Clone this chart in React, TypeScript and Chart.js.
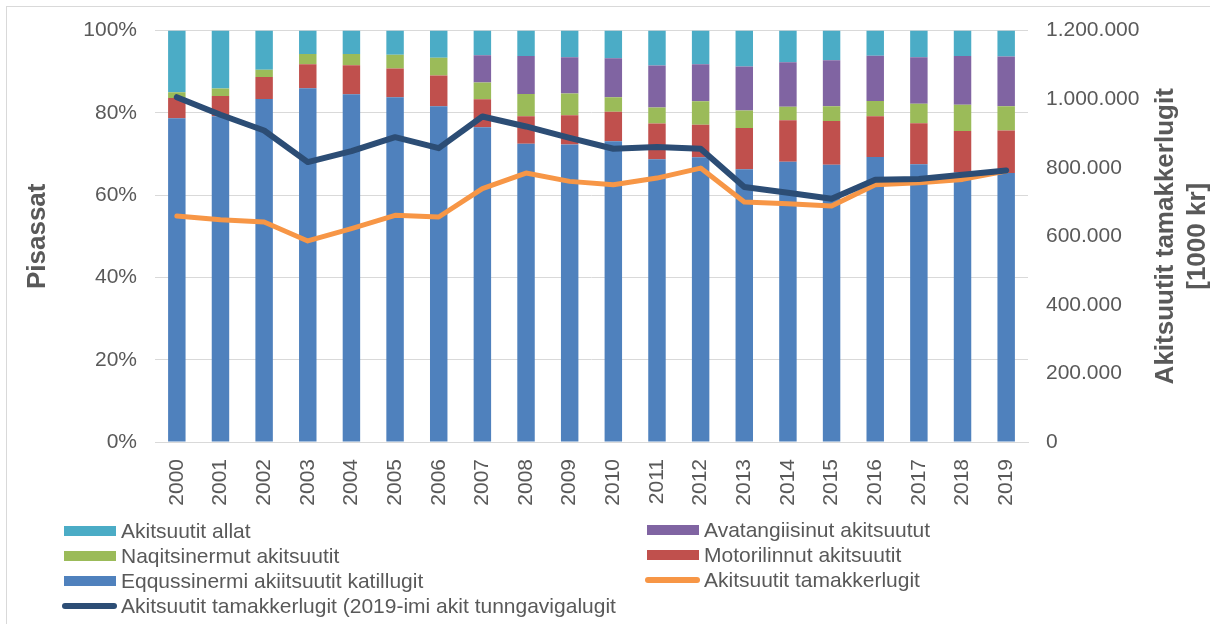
import React, { useEffect, useRef } from "react";
import { Chart, registerables } from "chart.js";

Chart.register(...registerables);

const YEARS = ["2000","2001","2002","2003","2004","2005","2006","2007","2008","2009","2010","2011","2012","2013","2014","2015","2016","2017","2018","2019"];

// Share of taxes (%)
const EQQUSSINERMI = [78.7, 79.2, 83.4, 86.0, 84.5, 83.8, 81.6, 76.5, 72.5, 72.3, 73.1, 68.7, 69.2, 66.3, 68.1, 67.4, 69.3, 67.5, 65.5, 65.4];
const MOTORILINNUT = [4.9, 4.9, 5.3, 5.8, 7.1, 7.0, 7.5, 6.8, 6.7, 7.1, 7.2, 8.7, 7.9, 10.0, 10.1, 10.6, 9.9, 10.0, 10.1, 10.3];
const NAQITSINERMUT = [1.4, 1.8, 1.8, 2.5, 2.7, 3.3, 4.3, 4.1, 5.4, 5.3, 3.5, 3.9, 5.7, 4.3, 3.3, 3.6, 3.7, 4.7, 6.4, 5.9];
const AVATANGIISINUT = [0, 0, 0, 0, 0, 0, 0, 6.6, 9.2, 8.8, 9.5, 10.2, 9.0, 10.7, 10.8, 11.2, 11.0, 11.3, 11.8, 12.1];
const ALLAT = [15.0, 14.1, 9.5, 5.7, 5.7, 5.9, 6.6, 6.0, 6.2, 6.5, 6.7, 8.5, 8.2, 8.7, 7.7, 7.2, 6.1, 6.5, 6.2, 6.3];

// Totals (1000 kr)
const TAMAKKERLUGIT = [659000, 648500, 641700, 586400, 622300, 661200, 656300, 738800, 784500, 760200, 750600, 769800, 799000, 699900, 695000, 688300, 750600, 756300, 766000, 790300];
const TAMAKKERLUGIT_2019 = [1005700, 954400, 908700, 816400, 848400, 889200, 857200, 949500, 920400, 887300, 855300, 860200, 855300, 743600, 727200, 709700, 765000, 767000, 779700, 792200];

const LEFT_TITLE = "Pisassat";
const RIGHT_TITLE = ["Akitsuutit tamakkerlugit", "[1000 kr]"];

const C_BLUE = "#4F81BD";
const C_RED = "#C0504D";
const C_GREEN = "#9BBB59";
const C_PURPLE = "#8064A2";
const C_CYAN = "#4BACC6";
const C_ORANGE = "#F79646";
const C_NAVY = "#2C4D75";

const FONT = '"Liberation Sans", Arial, sans-serif';
const TXT = "#595959";

const LEGEND = [
  { label: "Akitsuutit allat", color: C_CYAN, line: false, col: 0, row: 0 },
  { label: "Avatangiisinut akitsuutut", color: C_PURPLE, line: false, col: 1, row: 0 },
  { label: "Naqitsinermut akitsuutit", color: C_GREEN, line: false, col: 0, row: 1 },
  { label: "Motorilinnut akitsuutit", color: C_RED, line: false, col: 1, row: 1 },
  { label: "Eqqussinermi akiitsuutit katillugit", color: C_BLUE, line: false, col: 0, row: 2 },
  { label: "Akitsuutit tamakkerlugit", color: C_ORANGE, line: true, col: 1, row: 2 },
  { label: "Akitsuutit tamakkerlugit (2019-imi akit tunngavigalugit", color: C_NAVY, line: true, col: 0, row: 3 },
];

const fmtThousands = (v: number) => String(Math.round(v)).replace(/\B(?=(\d{3})+(?!\d))/g, ".");

const rightTitlePlugin = {
  id: "rightTitle",
  afterDraw(chart: any) {
    const ctx = chart.ctx;
    const y = (chart.chartArea.top + chart.chartArea.bottom) / 2;
    const sc = chart.scales.y1;
    ctx.save();
    ctx.fillStyle = TXT;
    ctx.font = `bold 26px ${FONT}`;
    ctx.textAlign = "center";
    ctx.textBaseline = "middle";
    RIGHT_TITLE.forEach((line, i) => {
      ctx.save();
      ctx.translate(sc.right - 44 + i * 32, y);
      ctx.rotate(-Math.PI / 2);
      ctx.fillText(line, 0, 0);
      ctx.restore();
    });
    ctx.restore();
  },
};

export default function App() {
  const ref = useRef<HTMLCanvasElement | null>(null);

  useEffect(() => {
    if (!ref.current) return;
    const bar = (label: string, data: number[], color: string) => ({
      type: "bar" as const,
      label,
      data,
      backgroundColor: color,
      borderWidth: 0,
      yAxisID: "y",
      barPercentage: 0.4,
      categoryPercentage: 1.0,
      order: 0,
    });
    const chart = new Chart(ref.current, {
      type: "bar",
      data: {
        labels: YEARS,
        datasets: [
          bar("Eqqussinermi akiitsuutit katillugit", EQQUSSINERMI, C_BLUE),
          bar("Motorilinnut akitsuutit", MOTORILINNUT, C_RED),
          bar("Naqitsinermut akitsuutit", NAQITSINERMUT, C_GREEN),
          bar("Avatangiisinut akitsuutut", AVATANGIISINUT, C_PURPLE),
          bar("Akitsuutit allat", ALLAT, C_CYAN),
          {
            type: "line",
            label: "Akitsuutit tamakkerlugit",
            data: TAMAKKERLUGIT,
            borderColor: C_ORANGE,
            backgroundColor: C_ORANGE,
            borderWidth: 5,
            pointRadius: 0,
            tension: 0,
            borderJoinStyle: "round",
            borderCapStyle: "round",
            yAxisID: "y1",
            order: -1,
          } as any,
          {
            type: "line",
            label: "Akitsuutit tamakkerlugit (2019-imi akit tunngavigalugit",
            data: TAMAKKERLUGIT_2019,
            borderColor: C_NAVY,
            backgroundColor: C_NAVY,
            borderWidth: 6,
            pointRadius: 0,
            tension: 0,
            borderJoinStyle: "round",
            borderCapStyle: "round",
            yAxisID: "y1",
            order: -2,
          } as any,
        ],
      },
      options: {
        responsive: false,
        animation: false,
        layout: { padding: { top: 30, left: 0, right: 0, bottom: 0 } },
        plugins: {
          legend: { display: false },
          tooltip: { enabled: false },
        },
        scales: {
          x: {
            stacked: true,
            grid: { display: false, drawTicks: false },
            border: { display: true, color: "#D9D9D9", width: 1 },
            ticks: {
              autoSkip: false,
              maxRotation: 90,
              minRotation: 90,
              padding: 17,
              color: TXT,
              font: { family: FONT, size: 21 },
            },
            afterFit: (s: any) => { s.height = 182; },
          },
          y: {
            stacked: true,
            position: "left",
            min: 0,
            max: 100,
            grid: { color: "#D9D9D9", lineWidth: 1, drawTicks: false },
            border: { display: false },
            ticks: {
              stepSize: 20,
              padding: 18,
              color: TXT,
              font: { family: FONT, size: 21 },
              callback: (v: any) => `${v}%`,
            },
            title: {
              display: true,
              text: LEFT_TITLE,
              color: TXT,
              font: { family: FONT, size: 26, weight: "bold" },
              padding: { top: 22, bottom: 0 },
            },
            afterFit: (s: any) => { s.width = 155; },
          },
          y1: {
            position: "right",
            min: 0,
            max: 1200000,
            grid: { display: false, drawTicks: false },
            border: { display: false },
            ticks: {
              stepSize: 200000,
              padding: 18,
              color: TXT,
              font: { family: FONT, size: 21 },
              callback: (v: any) => fmtThousands(Number(v)),
            },
            afterFit: (s: any) => { s.width = 182; },
          },
        },
      } as any,
      plugins: [rightTitlePlugin],
    });
    return () => chart.destroy();
  }, []);

  const colX = [64, 647];
  const textX = [121, 704];
  const rowY = [[531, 556, 581, 606], [530, 555, 580, 605]];

  return (
    <div>
      <div style={{ position: "fixed", left: 6, top: 6, width: 1300, height: 1, background: "#D9D9D9" }} />
      <div style={{ position: "fixed", left: 6, top: 6, width: 1, height: 700, background: "#D9D9D9" }} />
      <canvas
        ref={ref}
        width={1210}
        height={624}
        style={{ position: "fixed", left: 0, top: 0, width: 1210, height: 624 }}
      />
      {LEGEND.map((it, i) => {
        const cy = rowY[it.col][it.row];
        return (
          <React.Fragment key={i}>
            {it.line ? (
              <div
                style={{
                  position: "fixed",
                  left: colX[it.col] - 2,
                  top: cy - 3,
                  width: 55,
                  height: 6,
                  borderRadius: 3,
                  background: it.color,
                }}
              />
            ) : (
              <div
                style={{
                  position: "fixed",
                  left: colX[it.col],
                  top: cy - 5,
                  width: 52,
                  height: 10,
                  background: it.color,
                }}
              />
            )}
            <div
              style={{
                position: "fixed",
                left: textX[it.col],
                top: cy - 12,
                height: 24,
                lineHeight: "24px",
                fontSize: 21,
                fontFamily: FONT,
                color: TXT,
                whiteSpace: "nowrap",
              }}
            >
              {it.label}
            </div>
          </React.Fragment>
        );
      })}
    </div>
  );
}
